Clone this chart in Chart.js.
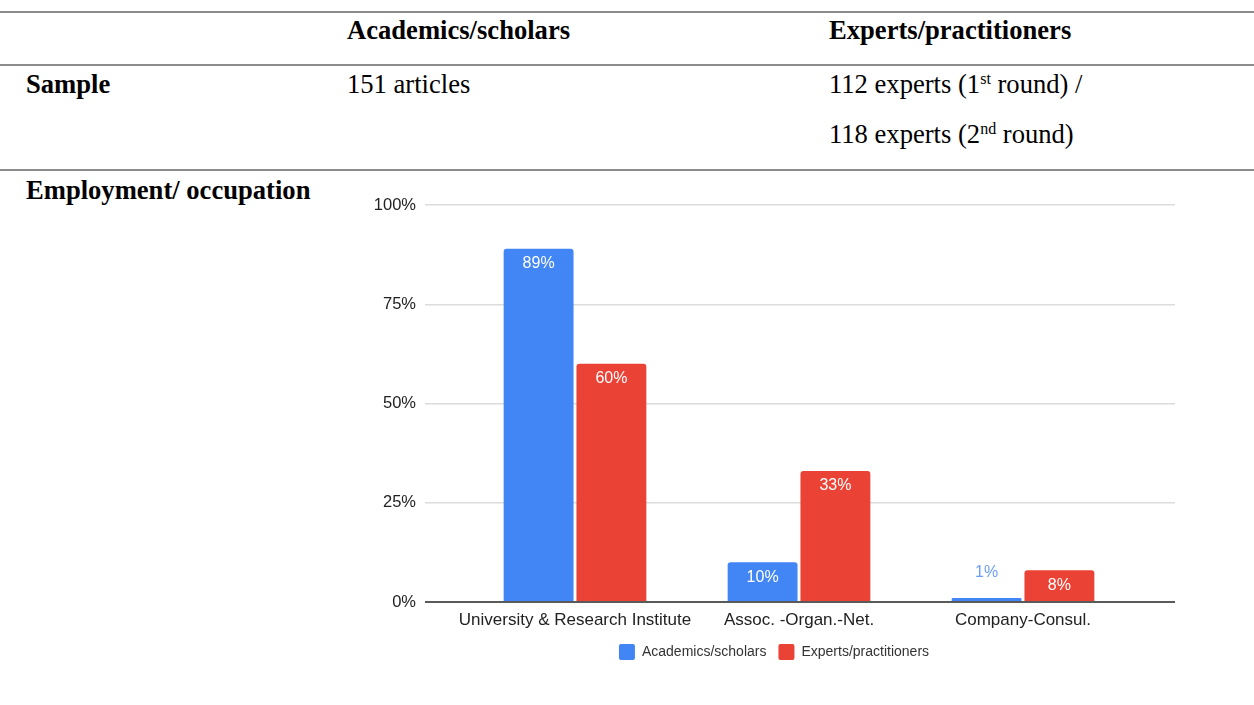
<!DOCTYPE html>
<html>
<head>
<meta charset="utf-8">
<script src="https://cdn.jsdelivr.net/npm/chart.js@4/dist/chart.umd.min.js"></script>
<style>
    html, body {
        margin: 0;
        padding: 0;
        background: #fff;
    }
    body {
        position: relative;
        width: 1254px;
        height: 705px;
        overflow: hidden;
        font-family: "Liberation Serif", "Times New Roman", serif;
        font-size: 26.6px;
        color: #000;
    }
    .rule {
        position: absolute;
        left: 0;
        width: 1254px;
        height: 2px;
        background: #8c8c8c;
    }
    .cell {
        position: absolute;
        line-height: 26px;
        white-space: nowrap;
    }
    .cell.bold {
        font-weight: bold;
    }
    .cell sup {
        font-size: 16px;
        line-height: 0;
        vertical-align: 9px;
    }
    #employmentChart {
        position: absolute;
        left: 340px;
        top: 180px;
    }
</style>
</head>
<body>
    <div class="rule" style="top: 11px;"></div>
    <div class="cell bold" style="left: 347px; top: 17px;">Academics/scholars</div>
    <div class="cell bold" style="left: 829px; top: 17px;">Experts/practitioners</div>

    <div class="rule" style="top: 64px;"></div>
    <div class="cell bold" style="left: 26px; top: 71px;">Sample</div>
    <div class="cell" style="left: 347px; top: 71px;">151 articles</div>
    <div class="cell" style="left: 829px; top: 71px;">112 experts (1<sup>st</sup> round) /</div>
    <div class="cell" style="left: 829px; top: 121px;">118 experts (2<sup>nd</sup> round)</div>

    <div class="rule" style="top: 169px;"></div>
    <div class="cell bold" style="left: 26px; top: 177px;">Employment/ occupation</div>

    <canvas id="employmentChart" width="868" height="490"></canvas>

<script>
const categories = ['University & Research Institute', 'Assoc. -Organ.-Net.', 'Company-Consul.'];
const seriesNames = ['Academics/scholars', 'Experts/practitioners'];
const academics = [89, 10, 1];
const experts = [60, 33, 8];
const yTicks = [0, 25, 50, 75, 100];

const BLUE = '#4285f4';
const RED = '#ea4335';
const SANS = '"Liberation Sans", Arial, Helvetica, sans-serif';

// gridline colours, the zero line is darker
const gridColor = c => c.tick && c.tick.value === 0 ? '#5a5a5a' : '#dcdcdc';
const gridWidth = c => c.tick && c.tick.value === 0 ? 2 : 1.5;

// percent labels: white inside tall bars, coloured above short ones
const barLabels = {
    id: 'barLabels',
    afterDatasetsDraw(chart) {
        const ctx = chart.ctx;
        ctx.save();
        ctx.font = '16px ' + SANS;
        ctx.textAlign = 'center';
        ctx.textBaseline = 'middle';
        chart.data.datasets.forEach((ds, di) => {
            const meta = chart.getDatasetMeta(di);
            meta.data.forEach((bar, i) => {
                const text = ds.data[i] + '%';
                if (bar.base - bar.y > 26) {
                    ctx.fillStyle = '#ffffff';
                    ctx.fillText(text, bar.x, bar.y + 15);
                } else {
                    ctx.fillStyle = ds.outsideLabelColor;
                    ctx.fillText(text, bar.x, bar.y - 25);
                }
            });
        });
        ctx.restore();
    }
};

document.addEventListener('DOMContentLoaded', function () {
    const ctx = document.getElementById('employmentChart').getContext('2d');
    new Chart(ctx, {
        type: 'bar',
        data: {
            labels: categories,
            datasets: [
                {
                    label: seriesNames[0],
                    data: academics,
                    backgroundColor: BLUE,
                    outsideLabelColor: '#6d9ef5',
                    borderRadius: { topLeft: 3, topRight: 3 },
                    borderSkipped: 'bottom'
                },
                {
                    label: seriesNames[1],
                    data: experts,
                    backgroundColor: RED,
                    outsideLabelColor: '#ef7366',
                    borderRadius: { topLeft: 3, topRight: 3 },
                    borderSkipped: 'bottom'
                }
            ]
        },
        options: {
            responsive: false,
            animation: false,
            categoryPercentage: 0.65,
            barPercentage: 0.96,
            layout: {
                padding: { top: 25, right: 33, bottom: 0, left: 33 }
            },
            plugins: {
                legend: {
                    position: 'bottom',
                    labels: {
                        boxWidth: 16,
                        boxHeight: 16,
                        padding: 12,
                        color: '#333',
                        font: { family: SANS, size: 14 },
                        useBorderRadius: true,
                        borderRadius: 2
                    }
                },
                tooltip: { enabled: false }
            },
            scales: {
                x: {
                    grid: { display: false, drawTicks: false },
                    border: { display: false },
                    afterFit: function (scale) {
                        scale.height = 30;
                    },
                    ticks: {
                        autoSkip: false,
                        maxRotation: 0,
                        padding: 8,
                        color: '#222',
                        font: { family: SANS, size: 17 }
                    }
                },
                y: {
                    min: 0,
                    max: 100,
                    afterBuildTicks: function (scale) {
                        scale.ticks = yTicks.map(v => ({ value: v }));
                    },
                    afterFit: function (scale) {
                        scale.width = 90;
                    },
                    border: { display: false },
                    // tick marks carry the gridlines out past the bar groups
                    grid: {
                        drawTicks: true,
                        tickLength: 38,
                        color: gridColor,
                        lineWidth: gridWidth
                    },
                    ticks: {
                        padding: 9,
                        color: '#222',
                        font: { family: SANS, size: 16.5 },
                        callback: function (value) {
                            return value + '%';
                        }
                    }
                },
                yRight: {
                    position: 'right',
                    min: 0,
                    max: 100,
                    afterBuildTicks: function (scale) {
                        scale.ticks = yTicks.map(v => ({ value: v }));
                    },
                    afterFit: function (scale) {
                        scale.width = 40;
                    },
                    border: { display: false },
                    grid: {
                        drawOnChartArea: false,
                        drawTicks: true,
                        tickLength: 40,
                        color: gridColor,
                        lineWidth: gridWidth
                    },
                    ticks: { display: false }
                }
            }
        },
        plugins: [barLabels]
    });
});
</script>
</body>
</html>
